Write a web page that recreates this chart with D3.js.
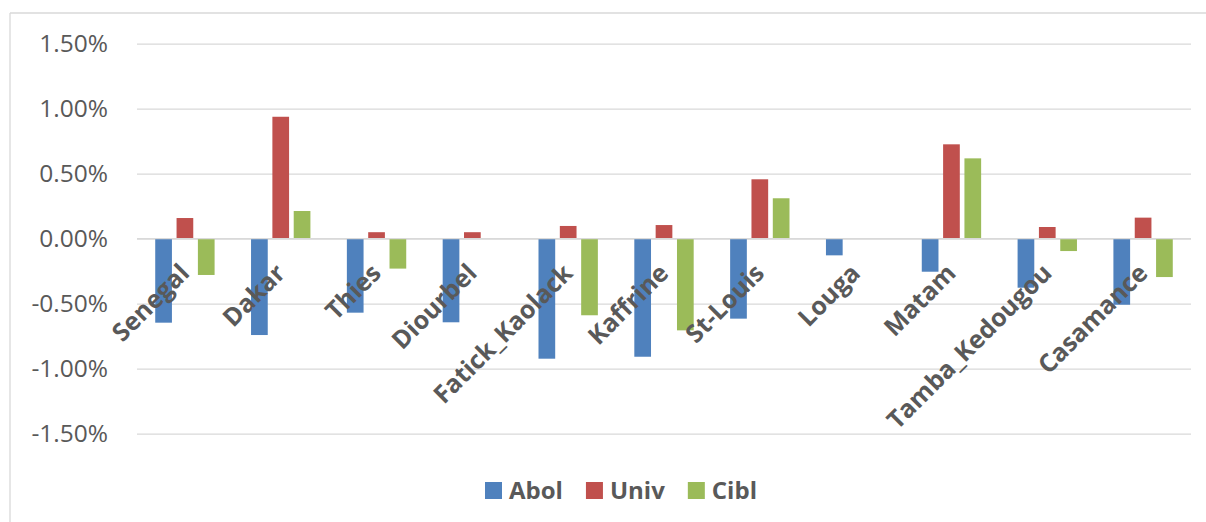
<!DOCTYPE html>
<html>
<head>
<meta charset="utf-8">
<script src="https://cdn.jsdelivr.net/npm/d3@7"></script>
<style>
  html, body { margin: 0; padding: 0; background: #fff; }
  svg { display: block; }
</style>
</head>
<body>
<svg id="chart" width="1206" height="522"></svg>
<script>
// Regional variation, in percent, by region and series
const categories = ["Senegal", "Dakar", "Thies", "Diourbel", "Fatick_Kaolack", "Kaffrine",
                    "St-Louis", "Louga", "Matam", "Tamba_Kedougou", "Casamance"];
const seriesNames = ["Abol", "Univ", "Cibl"];
const abol = [-0.646, -0.741, -0.569, -0.643, -0.923, -0.908, -0.615, -0.128, -0.254, -0.377, -0.508];
const univ = [0.159, 0.938, 0.050, 0.050, 0.098, 0.105, 0.457, 0.000, 0.726, 0.090, 0.162];
const cibl = [-0.279, 0.213, -0.230, 0.000, -0.589, -0.705, 0.311, 0.000, 0.618, -0.095, -0.295];
const yTicks = [1.5, 1.0, 0.5, 0.0, -0.5, -1.0, -1.5];

const seriesValues = [abol, univ, cibl];
const colors = ["#4F81BD", "#C0504D", "#9BBB59"];
const textColor = "#595959";
const gridColor = "#D9D9D9";
const font = "'Open Sans', 'Liberation Sans', sans-serif";

const svg = d3.select("#chart");

// chart area frame (only top and left edges fall inside the view)
svg.append("line").attr("x1", 10).attr("x2", 1206).attr("y1", 13).attr("y2", 13)
  .attr("stroke", gridColor).attr("stroke-width", 1.3);
svg.append("line").attr("x1", 10).attr("x2", 10).attr("y1", 13).attr("y2", 522)
  .attr("stroke", gridColor).attr("stroke-width", 1.3);

const x = d3.scaleBand().domain(categories).range([137, 1191]).padding(0);
const y = d3.scaleLinear().domain([-1.5, 1.5]).range([433.7, 43.7]);
const xs = d3.scaleBand().domain(seriesNames).range([-32, 32]).paddingInner(0);
const barW = 16.7;

// gridlines and value labels (plain hyphen for negatives)
const yAxis = d3.axisLeft(y).tickValues(yTicks)
  .tickFormat(d => d3.format(".2f")(d).replace("\u2212", "-") + "%")
  .tickSize(-(1191 - 137)).tickPadding(29);
const gy = svg.append("g").attr("transform", "translate(137,0)").call(yAxis);
gy.select(".domain").remove();
gy.selectAll(".tick line").attr("stroke", gridColor).attr("stroke-width", 1.3);
gy.selectAll(".tick text").attr("fill", textColor)
  .style("font-family", font).style("font-size", "24.5px");

// bars
seriesNames.forEach((s, si) => {
  svg.append("g").selectAll("rect")
    .data(categories.map((c, i) => ({ c, v: seriesValues[si][i] })).filter(d => d.v !== 0))
    .join("rect")
    .attr("x", d => x(d.c) + x.bandwidth() / 2 + xs(s) + (xs.bandwidth() - barW) / 2)
    .attr("width", barW)
    .attr("y", d => y(Math.max(0, d.v)))
    .attr("height", d => Math.abs(y(d.v) - y(0)))
    .attr("fill", colors[si]);
});

// zero line above bars
svg.append("line").attr("x1", 137).attr("x2", 1191).attr("y1", y(0)).attr("y2", y(0))
  .attr("stroke", gridColor).attr("stroke-width", 1.3);

// rotated category labels
svg.append("g").selectAll("text")
  .data(categories)
  .join("text")
  .attr("transform", d => `translate(${x(d) + x.bandwidth() / 2 + 6},${y(0) + 36}) rotate(-45)`)
  .attr("text-anchor", "end")
  .attr("fill", textColor)
  .style("font-family", font).style("font-size", "25px").style("font-weight", "bold")
  .text(d => d);

// legend
const legend = svg.append("g");
let lx = 485;
seriesNames.forEach((s, si) => {
  legend.append("rect").attr("x", lx).attr("y", 482).attr("width", 17).attr("height", 17)
    .attr("fill", colors[si]);
  const t = legend.append("text").attr("x", lx + 24).attr("y", 499)
    .attr("fill", textColor)
    .style("font-family", font).style("font-size", "24px").style("font-weight", "bold")
    .text(s);
  lx += 24 + t.node().getComputedTextLength() + 23;
});
</script>
</body>
</html>
